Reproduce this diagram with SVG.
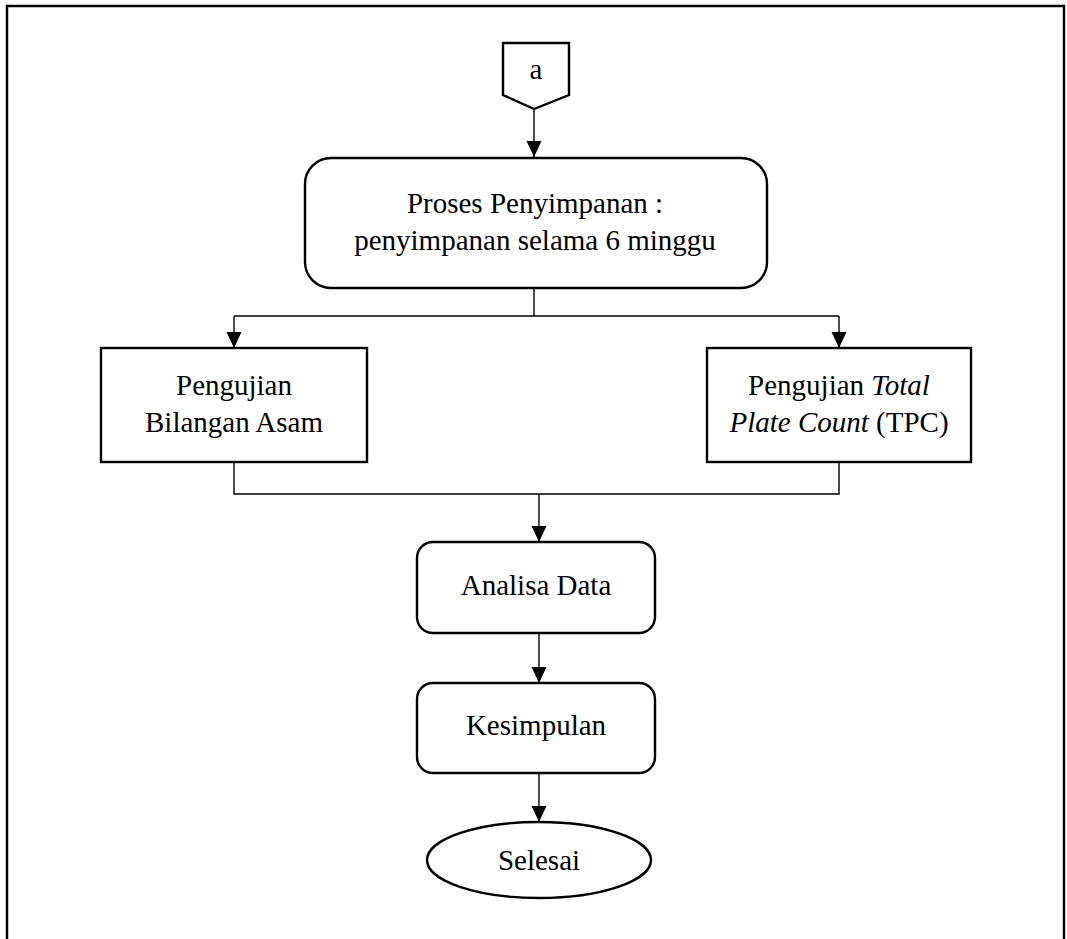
<svg xmlns="http://www.w3.org/2000/svg" width="1067" height="939" viewBox="0 0 1067 939">
<defs>
<marker id="arr" markerWidth="16" markerHeight="16" viewBox="0 0 16 16" refX="16" refY="8" orient="auto" markerUnits="userSpaceOnUse">
<path d="M0,0.5 L16,8 L0,15.5 Z" fill="#000"/>
</marker>
<style>
.n{fill:#fff;stroke:#000;stroke-width:2.4}
.c{fill:none;stroke:#000;stroke-width:1.4}
.t{font-family:"Liberation Serif","Times New Roman",serif;font-size:29px;fill:#000;text-anchor:middle}
</style>
</defs>
<rect width="1067" height="939" fill="#fff"/>
<path d="M7,945 L7,6 L1064,6 L1064,945" fill="none" stroke="#000" stroke-width="2.4"/>
<g id="connectors">
<path class="c" d="M534,109 L534,157" marker-end="url(#arr)"/>
<path class="c" d="M534,288 L534,316"/>
<path class="c" d="M234,316 L839,316"/>
<path class="c" d="M234,316 L234,348" marker-end="url(#arr)"/>
<path class="c" d="M839,316 L839,348" marker-end="url(#arr)"/>
<path class="c" d="M234,462 L234,494 L839,494 L839,462"/>
<path class="c" d="M539,494 L539,542" marker-end="url(#arr)"/>
<path class="c" d="M539,633 L539,683" marker-end="url(#arr)"/>
<path class="c" d="M539,773 L539,822" marker-end="url(#arr)"/>
</g>
<g id="node-a">
<path class="n" d="M503,43 L569,43 L569,95 L534,109 L503,95 Z"/>
<text class="t" x="536" y="79">a</text>
</g>
<g id="node-proses">
<rect class="n" x="305" y="158" width="462" height="130" rx="26"/>
<text class="t" x="535" y="213">Proses Penyimpanan :</text>
<text class="t" x="535" y="250">penyimpanan selama 6 minggu</text>
</g>
<g id="node-bilangan">
<rect class="n" x="101" y="348" width="266" height="114"/>
<text class="t" x="234" y="395">Pengujian</text>
<text class="t" x="234" y="432">Bilangan Asam</text>
</g>
<g id="node-tpc">
<rect class="n" x="707" y="348" width="264" height="114"/>
<text class="t" x="839" y="395">Pengujian <tspan font-style="italic">Total</tspan></text>
<text class="t" x="839" y="432"><tspan font-style="italic">Plate Count</tspan> (TPC)</text>
</g>
<g id="node-analisa">
<rect class="n" x="417" y="542" width="238" height="91" rx="16"/>
<text class="t" x="536" y="595">Analisa Data</text>
</g>
<g id="node-kesimpulan">
<rect class="n" x="417" y="683" width="238" height="90" rx="16"/>
<text class="t" x="536" y="735">Kesimpulan</text>
</g>
<g id="node-selesai">
<ellipse class="n" cx="539" cy="860" rx="112" ry="38"/>
<text class="t" x="539" y="870">Selesai</text>
</g>
</svg>
